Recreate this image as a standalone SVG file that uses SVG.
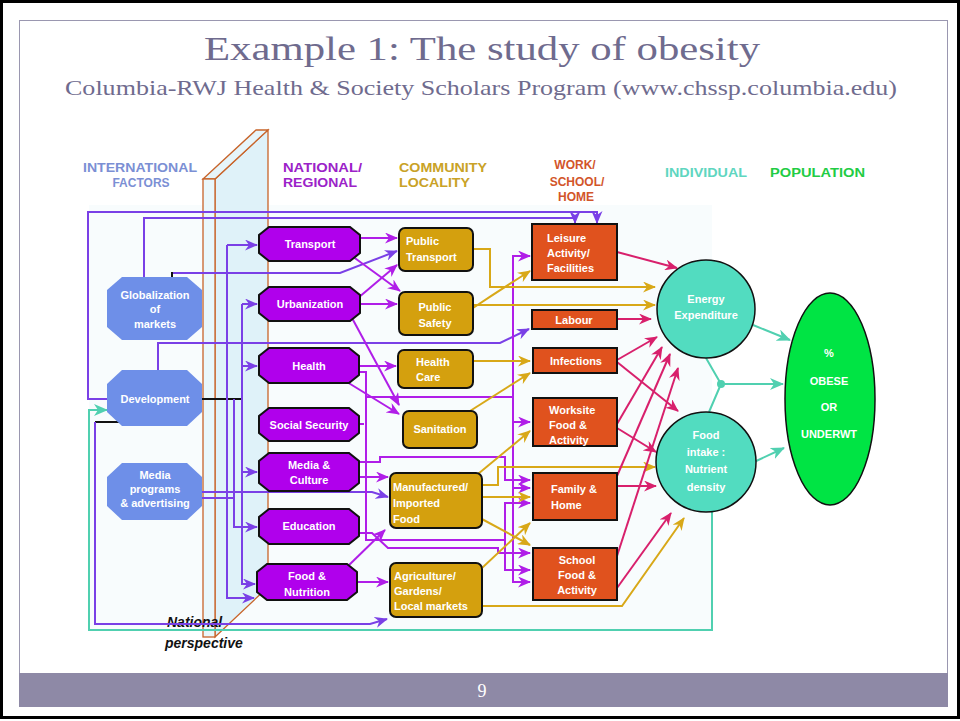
<svg xmlns="http://www.w3.org/2000/svg" width="960" height="721" viewBox="0 0 960 721">
<style>
.lbl{font-family:"Liberation Sans",Arial,sans-serif;font-weight:bold;font-size:11px;fill:#ffffff;text-anchor:middle}
.lbll{font-family:"Liberation Sans",Arial,sans-serif;font-weight:bold;font-size:11px;fill:#ffffff}
.hdr{font-family:"Liberation Sans",Arial,sans-serif;font-weight:bold;font-size:12px}
.intl{fill:#6e8fe8}
.nat{fill:#b000ec;stroke:#111;stroke-width:2}
.com{fill:#d4a00e;stroke:#111;stroke-width:2}
.wsh{fill:#e0521e;stroke:#111;stroke-width:2}
.ind{fill:#52dcc0;stroke:#111;stroke-width:1.5}
.vio{fill:none;stroke:#7a40e6;stroke-width:2}
.mag{fill:none;stroke:#b01ee8;stroke-width:2}
.gld{fill:none;stroke:#d8a818;stroke-width:2}
.crm{fill:none;stroke:#d8206c;stroke-width:2}
.tel{fill:none;stroke:#50d0b0;stroke-width:2}
.blk{fill:none;stroke:#111;stroke-width:2}
</style>
<defs>
<marker id="aV" markerUnits="userSpaceOnUse" markerWidth="13" markerHeight="11" refX="12" refY="5.5" orient="auto"><path d="M0,0 L13,5.5 L0,11 L4,5.5 z" fill="#7a40e6"/></marker>
<marker id="aM" markerUnits="userSpaceOnUse" markerWidth="13" markerHeight="11" refX="12" refY="5.5" orient="auto"><path d="M0,0 L13,5.5 L0,11 L4,5.5 z" fill="#b01ee8"/></marker>
<marker id="aG" markerUnits="userSpaceOnUse" markerWidth="13" markerHeight="11" refX="12" refY="5.5" orient="auto"><path d="M0,0 L13,5.5 L0,11 L4,5.5 z" fill="#d8a818"/></marker>
<marker id="aC" markerUnits="userSpaceOnUse" markerWidth="13" markerHeight="11" refX="12" refY="5.5" orient="auto"><path d="M0,0 L13,5.5 L0,11 L4,5.5 z" fill="#d8206c"/></marker>
<marker id="aT" markerUnits="userSpaceOnUse" markerWidth="14" markerHeight="12" refX="13" refY="6" orient="auto"><path d="M0,0 L14,6 L0,12 L4,6 z" fill="#50d0b0"/></marker>
</defs>

<!-- slide frame -->
<rect x="0" y="0" width="960" height="721" fill="#ffffff"/>
<rect x="1.5" y="1.5" width="957" height="716" fill="none" stroke="#000" stroke-width="3"/>
<rect x="19.5" y="20.5" width="928" height="686" fill="none" stroke="#9a97b0" stroke-width="1"/>
<rect x="19" y="673" width="929" height="34" fill="#8e89a6"/>
<text x="482" y="697" font-family="Liberation Serif,serif" font-size="18" fill="#ffffff" text-anchor="middle">9</text>
<text x="482" y="60" font-family="Liberation Serif,serif" font-size="34" fill="#6f6b8e" text-anchor="middle" textLength="556" lengthAdjust="spacingAndGlyphs">Example 1: The study of obesity</text>
<text x="481" y="95" font-family="Liberation Serif,serif" font-size="21" fill="#6f6b8e" text-anchor="middle" textLength="832" lengthAdjust="spacingAndGlyphs">Columbia-RWJ Health &amp; Society Scholars Program (www.chssp.columbia.edu)</text>

<!-- diagram background -->
<rect x="89" y="205" width="623" height="425" fill="#f8fcfd"/>

<!-- national perspective panel -->
<g id="panel">
<polygon points="215,179 268,130 268,587 215,637" fill="#dff2f9" stroke="#c8642a" stroke-width="1.3"/>
<polygon points="203,179 256,130 268,130 215,179" fill="#e6f5fa" stroke="#c8642a" stroke-width="1.3"/>
<rect x="203" y="179" width="12" height="458" fill="#e9f7fb" stroke="#c8642a" stroke-width="1.3"/>
<text x="167" y="627" font-family="Liberation Sans,Arial,sans-serif" font-weight="bold" font-style="italic" font-size="14" fill="#111">National</text>
<text x="165" y="648" font-family="Liberation Sans,Arial,sans-serif" font-weight="bold" font-style="italic" font-size="14" fill="#111">perspective</text>
</g>

<!-- headers -->
<g id="headers">
<text class="hdr" x="140" y="172" fill="#7b8fd4" text-anchor="middle" textLength="114" lengthAdjust="spacingAndGlyphs">INTERNATIONAL</text>
<text class="hdr" x="141" y="187" fill="#7b8fd4" text-anchor="middle">FACTORS</text>
<text class="hdr" x="283" y="172" fill="#9b22c8" textLength="79" lengthAdjust="spacingAndGlyphs">NATIONAL/</text>
<text class="hdr" x="283" y="187" fill="#9b22c8" textLength="74" lengthAdjust="spacingAndGlyphs">REGIONAL</text>
<text class="hdr" x="399" y="172" fill="#c9a227" textLength="88" lengthAdjust="spacingAndGlyphs">COMMUNITY</text>
<text class="hdr" x="399" y="187" fill="#c9a227" textLength="71" lengthAdjust="spacingAndGlyphs">LOCALITY</text>
<text class="hdr" x="575" y="169" fill="#d2552a" text-anchor="middle">WORK/</text>
<text class="hdr" x="577" y="186" fill="#d2552a" text-anchor="middle">SCHOOL/</text>
<text class="hdr" x="576" y="201" fill="#d2552a" text-anchor="middle">HOME</text>
<text class="hdr" x="665" y="177" fill="#5fd6c0" textLength="82" lengthAdjust="spacingAndGlyphs">INDIVIDUAL</text>
<text class="hdr" x="770" y="177" fill="#22cc44" textLength="95" lengthAdjust="spacingAndGlyphs">POPULATION</text>
</g>

<!-- connectors -->
<g id="connectors">
<!-- violet: international -->
<path class="vio" d="M107,399 H88 V212 H597 V223" marker-end="url(#aV)"/>
<path class="vio" d="M144,277 V218 H575 V223" marker-end="url(#aV)"/>
<path class="vio" d="M172,273 H340 L397,251" marker-end="url(#aV)"/>
<path class="blk" d="M172,277 V272"/>
<path class="vio" d="M158,370 V343 H500 L529,329" marker-end="url(#aV)"/>
<path class="blk" d="M202,399 H242"/>
<path class="vio" d="M227,245 H257" marker-end="url(#aV)"/>
<path class="vio" d="M227,245 V598 H254" marker-end="url(#aV)"/>
<path class="vio" d="M242,304 V584 L255,584" marker-end="url(#aV)"/>
<path class="vio" d="M242,304 H257" marker-end="url(#aV)"/>
<path class="vio" d="M242,366 H257" marker-end="url(#aV)"/>
<path class="vio" d="M242,472 H257" marker-end="url(#aV)"/>
<path class="vio" d="M234,399 V527 H257" marker-end="url(#aV)"/>
<path class="vio" d="M202,498 H234"/>
<path class="vio" d="M202,492 H372 L388,497" marker-end="url(#aV)"/>
<path class="blk" d="M123,425 V422 H95"/>
<path class="vio" d="M95,422 V624 H370 L387,619" marker-end="url(#aV)"/>
<!-- magenta: national -> community -->
<path class="mag" d="M360,238 H397" marker-end="url(#aM)"/>
<path class="mag" d="M352,256 L400,291" marker-end="url(#aM)"/>
<path class="mag" d="M358,298 L397,265" marker-end="url(#aM)"/>
<path class="mag" d="M360,304 H397" marker-end="url(#aM)"/>
<path class="mag" d="M352,318 L399,405" marker-end="url(#aM)"/>
<path class="mag" d="M359,366 H396" marker-end="url(#aM)"/>
<path class="mag" d="M347,382 L399,414" marker-end="url(#aM)"/>
<path class="mag" d="M359,477 H388" marker-end="url(#aM)"/>
<path class="mag" d="M347,567 L385,530" marker-end="url(#aM)"/>
<path class="mag" d="M357,582 H388" marker-end="url(#aM)"/>
<!-- magenta: national -> work/school/home -->
<path class="mag" d="M359,372 H366 V397 H513 V256 H530" marker-end="url(#aM)"/>
<path class="mag" d="M513,397 V422 H530" marker-end="url(#aM)"/>
<path class="mag" d="M366,397 V540 H505 V570 H530" marker-end="url(#aM)"/>
<path class="mag" d="M513,422 V488 H530" marker-end="url(#aM)"/>
<path class="mag" d="M359,462 H380 V457 H505 V480 H530" marker-end="url(#aM)"/>
<path class="mag" d="M359,424 H364"/>
<path class="mag" d="M359,533 H372 L388,548 H498 V553 H530" marker-end="url(#aM)"/>
<path class="mag" d="M505,540 V503 H530" marker-end="url(#aM)"/>
<path class="mag" d="M513,488 V582 H530" marker-end="url(#aM)"/>
<!-- gold: community -> work / individual -->
<path class="gld" d="M473,249 H490 V287 H655" marker-end="url(#aG)"/>
<path class="gld" d="M473,305 H655" marker-end="url(#aG)"/>
<path class="gld" d="M473,308 Q500,290 530,271" marker-end="url(#aG)"/>
<path class="gld" d="M473,361 H530" marker-end="url(#aG)"/>
<path class="gld" d="M470,411 L530,373" marker-end="url(#aG)"/>
<path class="gld" d="M478,474 L530,431" marker-end="url(#aG)"/>
<path class="gld" d="M482,485 H498 V467 H655" marker-end="url(#aG)"/>
<path class="gld" d="M482,497 H530" marker-end="url(#aG)"/>
<path class="gld" d="M480,518 L530,545" marker-end="url(#aG)"/>
<path class="gld" d="M482,568 L530,523" marker-end="url(#aG)"/>
<path class="gld" d="M482,606 H622 L684,518" marker-end="url(#aG)"/>
<!-- crimson: work/school/home -> individual -->
<path class="crm" d="M617,252 L677,268" marker-end="url(#aC)"/>
<path class="crm" d="M617,319 H651" marker-end="url(#aC)"/>
<path class="crm" d="M617,360 L657,337" marker-end="url(#aC)"/>
<path class="crm" d="M617,362 L678,411" marker-end="url(#aC)"/>
<path class="crm" d="M617,424 L662,347" marker-end="url(#aC)"/>
<path class="crm" d="M617,428 L656,452" marker-end="url(#aC)"/>
<path class="crm" d="M617,476 L670,354" marker-end="url(#aC)"/>
<path class="crm" d="M617,486 H656" marker-end="url(#aC)"/>
<path class="crm" d="M617,556 L678,368" marker-end="url(#aC)"/>
<path class="crm" d="M617,588 L671,513" marker-end="url(#aC)"/>
<!-- teal: individual -> population, feedback -->
<path class="tel" d="M753,325 L790,340" marker-end="url(#aT)"/>
<path class="tel" d="M754,462 L784,448" marker-end="url(#aT)"/>
<path class="tel" d="M706,358 L721,384 M709,412 L721,384 M721,384 H783" marker-end="url(#aT)"/>
<circle cx="721" cy="384" r="4" fill="#50d0b0"/>
<path class="tel" d="M712,512 V630 H89 V410 H107" marker-end="url(#aT)"/>
</g>

<!-- international nodes -->
<g id="globalization">
<polygon class="intl" points="122,277 187,277 202,290 202,327 187,340 122,340 107,327 107,290"/>
<text class="lbl" x="155" y="299">Globalization</text>
<text class="lbl" x="155" y="313">of</text>
<text class="lbl" x="155" y="328">markets</text>
</g>
<g id="development">
<polygon class="intl" points="122,370 187,370 202,384 202,412 187,426 122,426 107,412 107,384"/>
<text class="lbl" x="155" y="403">Development</text>
</g>
<g id="media-programs">
<polygon class="intl" points="122,463 187,463 202,477 202,506 187,520 122,520 107,506 107,477"/>
<text class="lbl" x="155" y="479">Media</text>
<text class="lbl" x="155" y="493">programs</text>
<text class="lbl" x="155" y="507">&amp; advertising</text>
</g>

<!-- national nodes -->
<g id="transport">
<polygon class="nat" points="269,227 350,227 360,235 360,253 350,261 269,261 259,253 259,235"/>
<text class="lbl" x="310" y="248">Transport</text>
</g>
<g id="urbanization">
<polygon class="nat" points="269,287 350,287 360,295 360,313 350,321 269,321 259,313 259,295"/>
<text class="lbl" x="310" y="308">Urbanization</text>
</g>
<g id="health">
<polygon class="nat" points="269,348 349,348 359,356 359,375 349,383 269,383 259,375 259,356"/>
<text class="lbl" x="309" y="370">Health</text>
</g>
<g id="social-security">
<polygon class="nat" points="269,408 349,408 359,416 359,433 349,441 269,441 259,433 259,416"/>
<text class="lbl" x="309" y="429">Social Security</text>
</g>
<g id="media-culture">
<polygon class="nat" points="269,453 349,453 359,461 359,483 349,491 269,491 259,483 259,461"/>
<text class="lbl" x="309" y="469">Media &amp;</text>
<text class="lbl" x="309" y="484">Culture</text>
</g>
<g id="education">
<polygon class="nat" points="269,509 349,509 359,517 359,536 349,544 269,544 259,536 259,517"/>
<text class="lbl" x="309" y="530">Education</text>
</g>
<g id="food-nutrition">
<polygon class="nat" points="267,564 347,564 357,572 357,592 347,600 267,600 257,592 257,572"/>
<text class="lbl" x="307" y="580">Food &amp;</text>
<text class="lbl" x="307" y="596">Nutrition</text>
</g>

<!-- community nodes -->
<g id="public-transport">
<rect class="com" x="399" y="228" width="74" height="43" rx="6"/>
<text class="lbll" x="406" y="245">Public</text>
<text class="lbll" x="406" y="261">Transport</text>
</g>
<g id="public-safety">
<rect class="com" x="399" y="292" width="74" height="43" rx="6"/>
<text class="lbl" x="435" y="311">Public</text>
<text class="lbl" x="435" y="327">Safety</text>
</g>
<g id="health-care">
<rect class="com" x="398" y="350" width="75" height="38" rx="6"/>
<text class="lbll" x="416" y="366">Health</text>
<text class="lbll" x="416" y="381">Care</text>
</g>
<g id="sanitation">
<rect class="com" x="403" y="411" width="74" height="37" rx="6"/>
<text class="lbl" x="440" y="433">Sanitation</text>
</g>
<g id="manufactured-food">
<rect class="com" x="390" y="473" width="92" height="55" rx="6"/>
<text class="lbll" x="393" y="491">Manufactured/</text>
<text class="lbll" x="393" y="507">Imported</text>
<text class="lbll" x="393" y="523">Food</text>
</g>
<g id="agriculture">
<rect class="com" x="390" y="563" width="92" height="54" rx="6"/>
<text class="lbll" x="394" y="580">Agriculture/</text>
<text class="lbll" x="394" y="595">Gardens/</text>
<text class="lbll" x="394" y="610">Local markets</text>
</g>

<!-- work / school / home nodes -->
<g id="leisure">
<rect class="wsh" x="532" y="224" width="85" height="56"/>
<text class="lbll" x="547" y="242">Leisure</text>
<text class="lbll" x="547" y="257">Activity/</text>
<text class="lbll" x="547" y="272">Facilities</text>
</g>
<g id="labour">
<rect class="wsh" x="532" y="310" width="85" height="19"/>
<text class="lbl" x="574" y="324">Labour</text>
</g>
<g id="infections">
<rect class="wsh" x="533" y="348" width="84" height="25"/>
<text class="lbl" x="576" y="365">Infections</text>
</g>
<g id="worksite">
<rect class="wsh" x="533" y="398" width="84" height="48"/>
<text class="lbll" x="549" y="414">Worksite</text>
<text class="lbll" x="549" y="429">Food &amp;</text>
<text class="lbll" x="549" y="444">Activity</text>
</g>
<g id="family-home">
<rect class="wsh" x="533" y="473" width="84" height="47"/>
<text class="lbll" x="551" y="493">Family &amp;</text>
<text class="lbll" x="551" y="509">Home</text>
</g>
<g id="school">
<rect class="wsh" x="533" y="548" width="84" height="52"/>
<text class="lbl" x="577" y="564">School</text>
<text class="lbl" x="577" y="579">Food &amp;</text>
<text class="lbl" x="577" y="594">Activity</text>
</g>

<!-- individual -->
<g id="energy-expenditure">
<circle class="ind" cx="706" cy="309" r="49"/>
<text class="lbl" x="706" y="303">Energy</text>
<text class="lbl" x="706" y="319">Expenditure</text>
</g>
<g id="food-intake">
<circle class="ind" cx="706" cy="462" r="50"/>
<text class="lbl" x="706" y="439">Food</text>
<text class="lbl" x="706" y="456">intake :</text>
<text class="lbl" x="706" y="473">Nutrient</text>
<text class="lbl" x="706" y="491">density</text>
</g>

<!-- population -->
<g id="obese-underwt">
<ellipse cx="830" cy="399" rx="45" ry="106" fill="#00e444" stroke="#111" stroke-width="1.5"/>
<text class="lbl" x="829" y="357">%</text>
<text class="lbl" x="829" y="385">OBESE</text>
<text class="lbl" x="829" y="411">OR</text>
<text class="lbl" x="829" y="438">UNDERWT</text>
</g>
</svg>
